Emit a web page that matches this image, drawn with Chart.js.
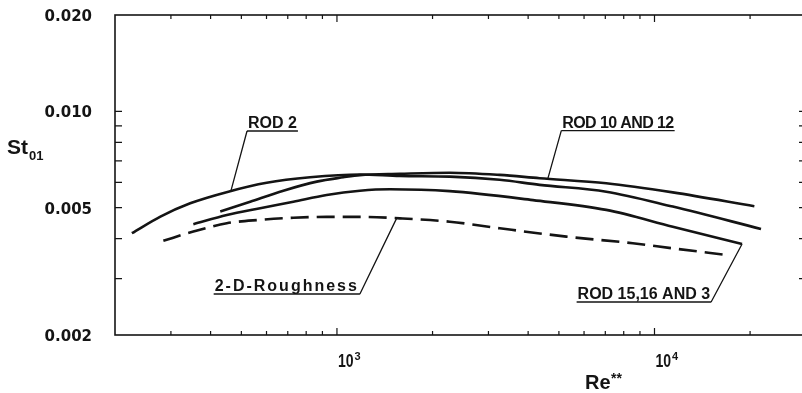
<!DOCTYPE html>
<html>
<head>
<meta charset="utf-8">
<script src="https://cdn.jsdelivr.net/npm/chart.js@4.4.0/dist/chart.umd.min.js"></script>
<style>
  html, body { margin: 0; padding: 0; background: #fff; overflow: hidden; }
  #wrap { position: absolute; left: 0; top: 0; width: 812px; height: 393px; }
</style>
</head>
<body>
<div id="wrap"><canvas id="c" width="812" height="393"></canvas></div>
<script>
// Stanton number St01 versus roughness Reynolds number Re** (log-log)
const rod2Re   = [226, 278, 345, 455, 601, 823, 1181, 1578, 2266, 3255, 4348, 7049, 11417, 21650];
const rod2St   = [0.00416, 0.00469, 0.00516, 0.00561, 0.00598, 0.00622, 0.00635, 0.00628, 0.00625, 0.00611, 0.00589, 0.00561, 0.00504, 0.00429];

const rod1012Re = [429, 533, 678, 864, 1047, 1181, 1578, 2266, 3255, 4348, 7049, 11417, 20630];
const rod1012St = [0.00486, 0.00522, 0.00565, 0.00603, 0.00622, 0.00632, 0.00638, 0.00643, 0.00633, 0.00618, 0.00596, 0.00558, 0.00505];

const rod15Re  = [353, 450, 573, 729, 928, 1181, 1468, 2266, 4143, 7049, 11417, 18870];
const rod15St  = [0.00444, 0.00474, 0.00498, 0.00522, 0.00548, 0.00565, 0.00571, 0.00563, 0.00528, 0.00492, 0.00436, 0.00385];

const rough2dRe = [284, 353, 450, 573, 729, 928, 1181, 1578, 2266, 3255, 5277, 8546, 11417, 16810];
const rough2dSt = [0.00394, 0.00421, 0.00447, 0.00458, 0.00465, 0.00468, 0.00468, 0.00463, 0.00452, 0.00431, 0.00406, 0.00387, 0.00373, 0.00356];

// Axis ranges and tick labels
const reRange = [200, 30000];
const stRange = [0.002, 0.020];
const xTickValues = [1000, 10000];
const xTickBase = ['10', '10'];
const xTickExponents = ['3', '4'];
const yTickValues = [0.002, 0.005, 0.010, 0.020];
const yTickLabels = ['0.002', '0.005', '0.010', '0.020'];
const xMinorTicks = [300, 400, 500, 600, 700, 800, 900, 2000, 3000, 4000, 5000, 6000, 7000, 8000, 9000, 20000];
const yMinorTicks = [0.003, 0.004, 0.006, 0.007, 0.008, 0.009];

const ink = '#141414';
const sans = "'Liberation Sans', Arial, sans-serif";

const pts = (xs, ys) => xs.map((v, i) => ({ x: v, y: ys[i] }));

// Curve labels: underline anchor and leader tip, both in data units
const callouts = [
  { text: 'ROD 2',            re: 521,   st: 0.00868,  from: 'left',  tipRe: 464,   tipSt: 0.00566, size: 16, spacing: 0,    extra: 2 },
  { text: 'ROD 10 AND 12',    re: 5088,  st: 0.00870,  from: 'left',  tipRe: 4617,  tipSt: 0.00617, size: 16, spacing: -0.6, extra: 2 },
  { text: '2-D-Roughness',    re: 1181,  st: 0.002686, from: 'right', tipRe: 1541,  tipSt: 0.00463, size: 16, spacing: 2,    extra: 2 },
  { text: 'ROD 15,16 AND 3',  re: 15077, st: 0.002536, from: 'right', tipRe: 18870, tipSt: 0.00385, size: 16, spacing: 0,    extra: 2 }
];

const framePlugin = {
  id: 'framePlugin',
  afterDraw(chart) {
    const { ctx, chartArea: a, scales: { x, y } } = chart;
    ctx.save();
    ctx.strokeStyle = ink;
    ctx.fillStyle = ink;
    ctx.lineCap = 'butt';

    // frame
    ctx.lineWidth = 1.6;
    ctx.strokeRect(a.left, a.top, a.right - a.left, a.bottom - a.top);

    // inward tick marks on all four sides
    const seg = (x0, y0, x1, y1) => { ctx.moveTo(x0, y0); ctx.lineTo(x1, y1); };
    ctx.beginPath();
    ctx.lineWidth = 1.2;
    xMinorTicks.forEach(v => {
      const px = x.getPixelForValue(v);
      seg(px, a.bottom, px, a.bottom - 4);
      seg(px, a.top, px, a.top + 4);
    });
    xTickValues.forEach(v => {
      const px = x.getPixelForValue(v);
      seg(px, a.bottom, px, a.bottom - 7);
      seg(px, a.top, px, a.top + 7);
    });
    yMinorTicks.concat([0.005, 0.010]).forEach(v => {
      const py = y.getPixelForValue(v);
      seg(a.left, py, a.left + 7, py);
      seg(a.right, py, a.right - 7, py);
    });
    ctx.stroke();

    // x tick labels: condensed "10" with a raised exponent
    ctx.textAlign = 'left';
    ctx.textBaseline = 'alphabetic';
    xTickValues.forEach((v, i) => {
      const px = x.getPixelForValue(v);
      const base = a.bottom + 32;
      ctx.font = `bold 18px ${sans}`;
      const bw = ctx.measureText(xTickBase[i]).width * 0.78;
      ctx.save();
      ctx.translate(px + 1, base);
      ctx.scale(0.78, 1);
      ctx.fillText(xTickBase[i], 0, 0);
      ctx.restore();
      ctx.font = `bold 11px ${sans}`;
      ctx.fillText(xTickExponents[i], px + 2 + bw, base - 7.5);
    });

    // callouts
    callouts.forEach(c => {
      ctx.font = `bold ${c.size}px ${sans}`;
      ctx.letterSpacing = c.spacing + 'px';
      const w = ctx.measureText(c.text).width;
      const ax = x.getPixelForValue(c.re), ay = y.getPixelForValue(c.st);
      const tx = x.getPixelForValue(c.tipRe), ty = y.getPixelForValue(c.tipSt);
      const len = w + c.extra;
      const x0 = c.from === 'left' ? ax : ax - len;
      ctx.beginPath();
      ctx.lineWidth = 1.3;
      seg(x0, ay, x0 + len, ay);
      seg(ax, ay, tx, ty);
      ctx.stroke();
      ctx.fillText(c.text, x0 + 1, ay - 3);
    });
    ctx.letterSpacing = '0px';

    // axis titles
    ctx.font = `bold 21px ${sans}`;
    ctx.fillText('St', a.left - 108, a.top + 139);
    let w = ctx.measureText('St').width;
    ctx.font = `bold 13px ${sans}`;
    ctx.fillText('01', a.left - 108 + w + 1, a.top + 144.5);

    ctx.font = `bold 20px ${sans}`;
    ctx.fillText('Re', a.left + 470, a.bottom + 54);
    w = ctx.measureText('Re').width;
    ctx.font = `bold 14px ${sans}`;
    ctx.fillText('**', a.left + 470 + w + 0.5, a.bottom + 48);

    ctx.restore();
  }
};

const solid = (label, data) => ({
  label, data, borderColor: ink, borderWidth: 2.6, pointRadius: 0,
  fill: false, cubicInterpolationMode: 'monotone', borderCapStyle: 'butt'
});

new Chart(document.getElementById('c'), {
  type: 'line',
  data: {
    datasets: [
      solid('ROD 2', pts(rod2Re, rod2St)),
      solid('ROD 10 AND 12', pts(rod1012Re, rod1012St)),
      solid('ROD 15,16 AND 3', pts(rod15Re, rod15St)),
      Object.assign(solid('2-D-Roughness', pts(rough2dRe, rough2dSt)), { borderDash: [18, 8] })
    ]
  },
  options: {
    responsive: false,
    animation: false,
    devicePixelRatio: 1,
    layout: { padding: { left: 0, top: 15, right: 6, bottom: 0 } },
    plugins: { legend: { display: false }, tooltip: { enabled: false } },
    scales: {
      x: {
        type: 'logarithmic',
        min: reRange[0], max: reRange[1], bounds: 'data',
        grid: { display: false }, border: { display: false },
        afterBuildTicks: s => { s.ticks = xTickValues.map(v => ({ value: v })); },
        afterFit: s => { s.height = 58; s.paddingLeft = 0; s.paddingRight = 0; },
        ticks: { display: false, autoSkip: false, maxRotation: 0 }
      },
      y: {
        type: 'logarithmic',
        min: stRange[0], max: stRange[1], bounds: 'data',
        grid: { display: false }, border: { display: false },
        afterBuildTicks: s => { s.ticks = yTickValues.map(v => ({ value: v })); },
        afterFit: s => { s.width = 115; s.paddingTop = 0; s.paddingBottom = 0; },
        ticks: {
          autoSkip: false, padding: 15, labelOffset: 2, color: ink,
          font: { family: "'DejaVu Sans', sans-serif", size: 15, weight: 'bold' },
          callback: (v, i) => yTickLabels[i]
        }
      }
    }
  },
  plugins: [framePlugin]
});
</script>
</body>
</html>
